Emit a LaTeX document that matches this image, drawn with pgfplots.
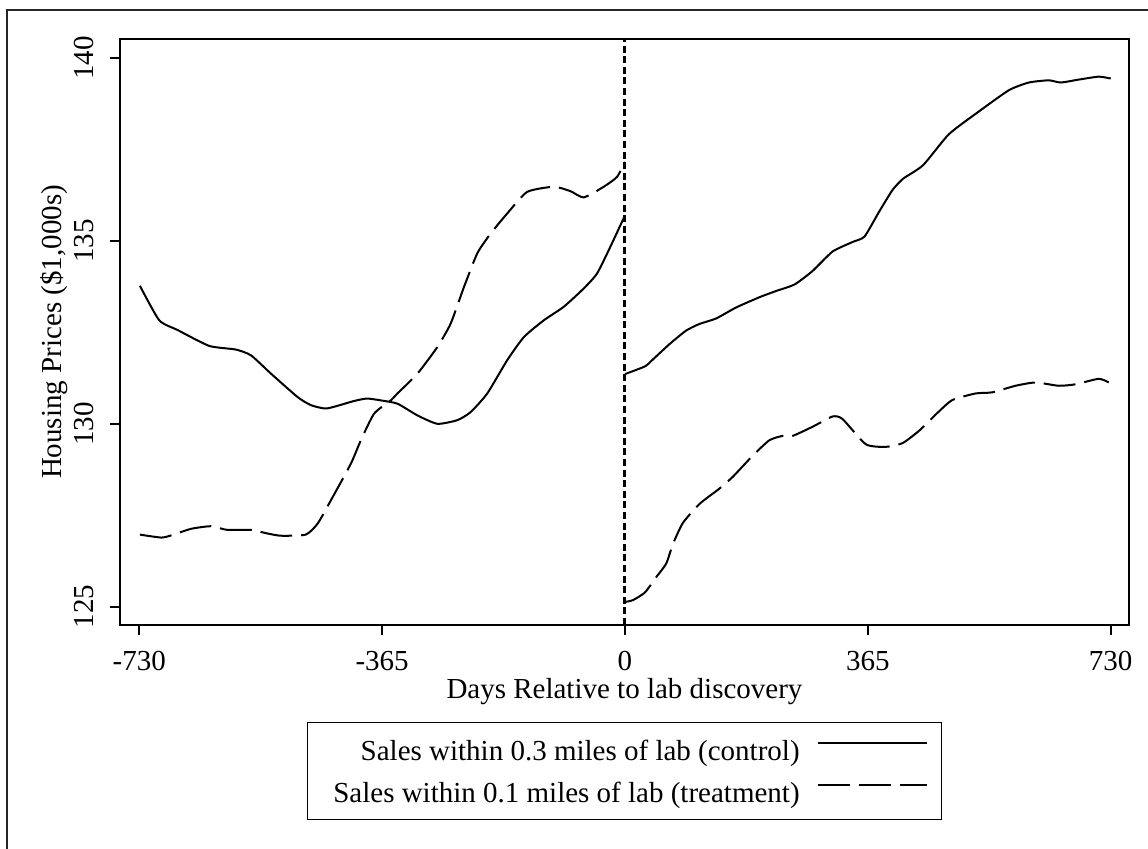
\documentclass[border=0pt]{standalone}
\usepackage{fontspec}
\setmainfont{Liberation Serif}
\usepackage{pgfplots}
\pgfplotsset{compat=1.18}
\begin{document}
\fontsize{14.5}{17.4}\selectfont
\begin{tikzpicture}
\path[use as bounding box] (-60pt,-112pt) rectangle (514pt,312.5pt);
\draw[line width=0.75pt, black!85] (-56.5pt,-113pt) -- (-56.5pt,307.5pt) -- (515pt,307.5pt);
\begin{axis}[
  at={(0pt,0pt)}, anchor=south west,
  scale only axis, width=504.5pt, height=293pt,
  xmin=-759, xmax=757.5, ymin=124.5, ymax=140.52,
  axis line style={line width=0.9pt},
  xtick={-730,-365,0,365,730}, xticklabels={-730,-365,0,365,730},
  ytick={125,130,135,140}, yticklabels={125,130,135,140},
  tick align=outside, xtick pos=bottom, ytick pos=left,
  major tick length=5pt, tick style={line width=0.9pt, black},
  xticklabel style={anchor=north, inner sep=0pt, yshift=-8pt},
  yticklabel style={xshift=-8pt, rotate=90, anchor=south, inner sep=0pt},
  xlabel={Days Relative to lab discovery},
  ylabel={Housing Prices (\$1,000s)},
  every axis x label/.style={at={(axis description cs:0.5,-0.1143)}, anchor=center},
  every axis y label/.style={at={(axis description cs:-0.0650,0.5)}, rotate=90, anchor=center},
  legend style={at={(axis description cs:0.5,-0.1655)}, anchor=north, draw=black, line width=0.7pt,
    inner xsep=7pt, inner ysep=6.5pt, row sep=6.5pt,
    nodes={inner sep=0pt, text height=12.5pt, text depth=2pt},
    /tikz/every odd column/.append style={column sep=8.5pt}},
  legend cell align=right, legend plot pos=right,
  legend image code/.code={\draw[#1] (0pt,3.5pt) -- (54.5pt,3.5pt);},
]
\addplot[black, line width=1pt, line join=round, smooth, tension=0.35] coordinates {
(-729,133.77) (-700,132.83) (-672,132.56) (-625,132.13) (-585,132.03) (-562,131.87) (-532,131.37) (-492,130.73) (-472,130.51) (-448,130.42) (-408,130.62) (-388,130.69) (-367,130.64) (-342,130.55) (-312,130.23) (-282,130.00) (-252,130.10) (-232,130.32) (-207,130.83) (-177,131.74) (-152,132.37) (-122,132.83) (-92,133.20) (-62,133.70) (-42,134.11) (-22,134.84) (0,135.70)
};
\addlegendentry{Sales within 0.3 miles of lab (control)}
\addplot[black, line width=1pt, line join=round, smooth, tension=0.35, dash pattern=on 16pt off 4.5pt] coordinates {
(-729,126.97) (-697,126.89) (-682,126.95) (-652,127.13) (-622,127.20) (-598,127.10) (-562,127.10) (-537,127.00) (-517,126.94) (-480,126.97) (-462,127.27) (-442,127.91) (-412,128.91) (-397,129.55) (-377,130.28) (-352,130.64) (-342,130.83) (-312,131.37) (-282,132.10) (-262,132.74) (-242,133.74) (-222,134.66) (-202,135.20) (-177,135.75) (-147,136.34) (-107,136.48) (-82,136.36) (-62,136.19) (-32,136.48) (-12,136.75) (0,137.16)
};
\addlegendentry{\hspace*{6pt}Sales within 0.1 miles of lab (treatment)}
\addplot[black, line width=1pt, line join=round, smooth, tension=0.35, forget plot] coordinates {
(0,131.36) (30,131.57) (42,131.76) (67,132.18) (92,132.55) (112,132.73) (137,132.88) (167,133.18) (202,133.46) (227,133.63) (255,133.81) (282,134.18) (312,134.71) (342,134.97) (360,135.12) (382,135.80) (402,136.39) (418,136.70) (448,137.07) (487,137.92) (532,138.54) (577,139.12) (607,139.33) (637,139.39) (655,139.33) (682,139.41) (712,139.49) (730,139.44)
};
\addplot[black, line width=1pt, line join=round, smooth, tension=0.35, dash pattern=on 16pt off 4.5pt, forget plot] coordinates {
(0,125.13) (12,125.18) (30,125.39) (47,125.81) (62,126.18) (72,126.71) (87,127.29) (112,127.81) (142,128.23) (162,128.55) (192,129.13) (217,129.55) (237,129.67) (252,129.67) (282,129.92) (312,130.20) (327,130.13) (362,129.44) (392,129.37) (417,129.47) (442,129.81) (472,130.34) (492,130.65) (527,130.83) (552,130.86) (587,131.04) (617,131.13) (652,131.04) (677,131.08) (712,131.23) (727,131.13)
};
\addplot[black, line width=1.5pt, dash pattern=on 3.5pt off 1.8pt, forget plot] coordinates {(0,124.5) (0,140.52)};
\end{axis}
\end{tikzpicture}
\end{document}
